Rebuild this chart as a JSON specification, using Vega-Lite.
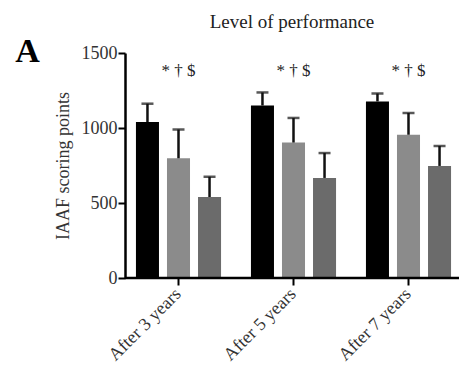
{
  "$schema": "https://vega.github.io/schema/vega-lite/v6.json",
  "autosize": "none",
  "width": 334,
  "height": 225,
  "padding": {"left": 125, "top": 53, "right": 0, "bottom": 98},
  "background": "white",
  "config": {
    "view": {"stroke": null},
    "font": "Liberation Serif",
    "text": {"font": "Liberation Serif"}
  },
  "title": {
    "text": "Level of performance",
    "font": "Liberation Serif",
    "fontSize": 19,
    "fontWeight": "normal",
    "color": "#222",
    "anchor": "middle",
    "frame": "group",
    "baseline": "alphabetic",
    "offset": -12
  },
  "datasets": {
    "bars": [
      {"period": "After 3 years", "group": "G1", "mean": 1040, "upper": 1162},
      {"period": "After 3 years", "group": "G2", "mean": 798, "upper": 990},
      {"period": "After 3 years", "group": "G3", "mean": 540, "upper": 675},
      {"period": "After 5 years", "group": "G1", "mean": 1150, "upper": 1237},
      {"period": "After 5 years", "group": "G2", "mean": 903, "upper": 1067},
      {"period": "After 5 years", "group": "G3", "mean": 667, "upper": 833},
      {"period": "After 7 years", "group": "G1", "mean": 1177, "upper": 1230},
      {"period": "After 7 years", "group": "G2", "mean": 955, "upper": 1100},
      {"period": "After 7 years", "group": "G3", "mean": 747, "upper": 880}
    ],
    "marks": [
      {"period": "After 3 years", "label": "* † $"},
      {"period": "After 5 years", "label": "* † $"},
      {"period": "After 7 years", "label": "* † $"}
    ],
    "panel": [
      {"period": "After 3 years", "label": "A"}
    ]
  },
  "layer": [
    {
      "data": {"name": "bars"},
      "mark": {"type": "bar"},
      "encoding": {
        "x": {
          "field": "period", "type": "nominal", "sort": null,
          "scale": {"range": [-4, 341], "paddingInner": 0.26, "paddingOuter": 0.13},
          "axis": {
            "title": null, "domain": false, "labelAngle": -45, "labelAlign": "right",
            "labelBaseline": "middle", "labelFont": "Liberation Serif", "labelFontSize": 18,
            "labelColor": "#333", "tickColor": "#000", "tickWidth": 2, "tickSize": 7, "labelPadding": 6
          }
        },
        "xOffset": {"field": "group", "type": "nominal", "scale": {"paddingInner": 0.258, "paddingOuter": 0}},
        "y": {
          "field": "mean", "type": "quantitative",
          "scale": {"domain": [0, 1500], "nice": false},
          "axis": {
            "title": "IAAF scoring points", "values": [0, 500, 1000, 1500], "format": "d", "grid": false,
            "domainColor": "#000", "domainWidth": 2.5, "tickColor": "#000", "tickWidth": 2, "tickSize": 7,
            "labelFont": "Liberation Serif", "labelFontSize": 18, "labelColor": "#333", "labelPadding": 1,
            "titleFont": "Liberation Serif", "titleFontSize": 18, "titleFontWeight": "normal",
            "titleColor": "#333", "titlePadding": 9
          }
        },
        "color": {
          "field": "group", "type": "nominal", "legend": null,
          "scale": {"domain": ["G1", "G2", "G3"], "range": ["#000000", "#8b8b8b", "#6b6b6b"]}
        }
      }
    },
    {
      "data": {"name": "bars"},
      "mark": {"type": "rule", "color": "#111", "strokeWidth": 2.5},
      "encoding": {
        "x": {"field": "period", "type": "nominal", "sort": null},
        "xOffset": {"field": "group", "type": "nominal"},
        "y": {"field": "mean", "type": "quantitative"},
        "y2": {"field": "upper"}
      }
    },
    {
      "data": {"name": "bars"},
      "mark": {"type": "tick", "color": "#111", "thickness": 2.5, "size": 12},
      "encoding": {
        "x": {"field": "period", "type": "nominal", "sort": null},
        "xOffset": {"field": "group", "type": "nominal"},
        "y": {"field": "upper", "type": "quantitative"}
      }
    },
    {
      "data": {"name": "marks"},
      "mark": {"type": "text", "fontSize": 17, "font": "Liberation Serif", "color": "#222", "baseline": "alphabetic", "align": "center"},
      "encoding": {
        "x": {"field": "period", "type": "nominal", "sort": null},
        "y": {"datum": 1345},
        "text": {"field": "label"}
      }
    },
    {
      "data": {"name": "panel"},
      "mark": {"type": "text", "fontSize": 34, "fontWeight": "bold", "font": "Liberation Serif", "color": "#000", "baseline": "alphabetic", "align": "center", "dx": -151},
      "encoding": {
        "x": {"field": "period", "type": "nominal", "sort": null},
        "y": {"datum": 1440},
        "text": {"field": "label"}
      }
    },
    {
      "data": {"values": [{"v": 0}]},
      "mark": {"type": "rule", "color": "#000", "strokeWidth": 2.5},
      "encoding": {
        "y": {"field": "v", "type": "quantitative"}
      }
    }
  ]
}
